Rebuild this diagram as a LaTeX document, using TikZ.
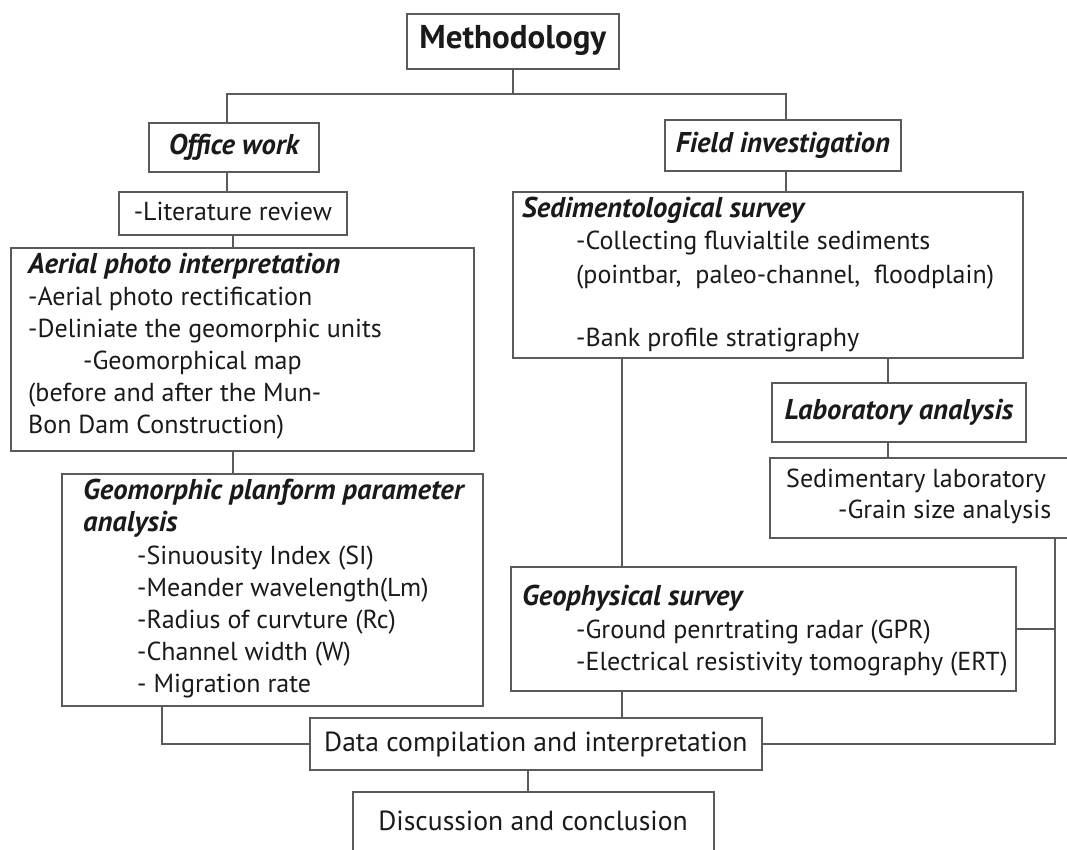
\documentclass[tikz,border=0pt]{standalone}
\usepackage{fontspec}
\setmainfont{PT Sans}
\definecolor{linec}{HTML}{5A5A5A}
\definecolor{textc}{HTML}{1A1A1A}
\begin{document}
\begin{tikzpicture}[x=1pt,y=-1pt,
  box/.style={draw=linec, line width=1.7pt, rectangle, inner sep=0pt, anchor=north west},
  conn/.style={draw=linec, line width=1.7pt},
  txt/.style={anchor=mid west, inner sep=0pt, yshift=-5pt, text=textc, font=\fontsize{26}{30}\selectfont},
  ctxt/.style={txt, anchor=mid},
  bigtxt/.style={ctxt, font=\fontsize{27.6}{31}\selectfont},
  hd/.style={txt, font=\fontsize{28.6}{32}\selectfont\bfseries\itshape},
  chd/.style={hd, anchor=mid},
]
\useasboundingbox (0,0) rectangle (1067,850);
\clip (0,0) rectangle (1067,850);
\fill[white] (0,0) rectangle (1067,850);

% boxes
\node[box, minimum width=212pt, minimum height=55pt] (meth) at (406,13) {};
\node[box, minimum width=170pt, minimum height=49pt] (office) at (148,122) {};
\node[box, minimum width=236pt, minimum height=51pt] (field) at (664,119) {};
\node[box, minimum width=228pt, minimum height=43pt] (lit) at (118,191) {};
\node[box, minimum width=463pt, minimum height=203pt] (aerial) at (10,247) {};
\node[box, minimum width=421pt, minimum height=232pt] (geom) at (61,473) {};
\node[box, minimum width=510pt, minimum height=166pt] (sed) at (512,191) {};
\node[box, minimum width=254pt, minimum height=59pt] (lab) at (771,382) {};
\node[box, minimum width=340pt, minimum height=80pt] (sedlab) at (769,457) {};
\node[box, minimum width=505pt, minimum height=124pt] (geo) at (510,566) {};
\node[box, minimum width=452pt, minimum height=52pt] (data) at (309,717) {};
\node[box, minimum width=361pt, minimum height=120pt] (disc) at (352,791) {};

% texts
\node[ctxt, font=\fontsize{33}{36}\selectfont\bfseries] (tmeth) at (meth.center) {Methodology};
\node[chd] (toffice) at (office.center) {Office work};
\node[chd] (tfield) at (field.center) {Field investigation};
\node[ctxt] (tlit) at (lit.center) {-Literature review};

\node[hd] (ta1) at (28,266) {Aerial photo interpretation};
\node[txt] (ta2) at (28,298) {-Aerial photo rectification};
\node[txt] (ta3) at (28,330) {-Deliniate the geomorphic units};
\node[txt] (ta4) at (83,362) {-Geomorphical map};
\node[txt] (ta5) at (28,394) {(before and after the Mun-};
\node[txt] (ta6) at (28,426) {Bon Dam Construction)};

\node[hd] (tg1) at (83,492) {Geomorphic planform parameter};
\node[hd] (tg2) at (83,524) {analysis};
\node[txt] (tg3) at (137,557) {-Sinuousity Index (SI)};
\node[txt] (tg4) at (137,589) {-Meander wavelength(Lm)};
\node[txt] (tg5) at (137,621) {-Radius of curvture (Rc)};
\node[txt] (tg6) at (137,653) {-Channel width (W)};
\node[txt] (tg7) at (137,685) {- Migration rate};

\node[hd] (ts1) at (522,210) {Sedimentological survey};
\node[txt] (ts2) at (576,242) {-Collecting fluvialtile sediments};
\node[txt] (ts3) at (576,276) {(pointbar,\ \ paleo-channel,\ \ floodplain)};
\node[txt] (ts4) at (576,339) {-Bank profile stratigraphy};

\node[chd] (tlab) at (lab.center) {Laboratory analysis};
\node[txt] (tsl1) at (786,480) {Sedimentary laboratory};
\node[txt] (tsl2) at (838,511) {-Grain size analysis};

\node[hd] (tgeo1) at (522,598) {Geophysical survey};
\node[txt] (tgeo2) at (576,631) {-Ground penrtrating radar (GPR)};
\node[txt] (tgeo3) at (576,663) {-Electrical resistivity tomography (ERT)};

\node[bigtxt] (tdata) at (data.center) {Data compilation and interpretation};
\node[bigtxt] (tdisc) at (533,823) {Discussion and conclusion};

% connectors
\coordinate (j1) at (227,94);
\coordinate (j2) at (786,94);
\coordinate (cg) at (622,0);
\coordinate (cl) at (888,0);
\coordinate (rb) at (1055,0);
\coordinate (cd) at (162,0);
\coordinate (cdd) at (528,0);

\draw[conn] (meth.south) -- (meth.south |- j1);
\draw[conn] (office.north -| j1) |- (j2) -- (field.north -| j2);
\draw[conn] (office.south -| j1) -- (lit.north -| j1);
\draw[conn] (lit.south) -- (lit.south |- aerial.north);
\draw[conn] (aerial.south -| lit.south) -- (geom.north -| lit.south);
\draw[conn] (geom.south -| cd) |- (data.west);
\draw[conn] (field.south -| j2) -- (sed.north -| j2);
\draw[conn] (sed.south -| cg) -- (geo.north -| cg);
\draw[conn] (geo.south -| cg) -- (data.north -| cg);
\draw[conn] (sed.south -| cl) -- (lab.north -| cl);
\draw[conn] (lab.south -| cl) -- (sedlab.north -| cl);
\draw[conn] (sedlab.south -| rb) |- (data.east);
\draw[conn] (geo.east) -- (geo.east -| rb);
\draw[conn] (data.south -| cdd) -- (disc.north -| cdd);
\end{tikzpicture}
\end{document}
